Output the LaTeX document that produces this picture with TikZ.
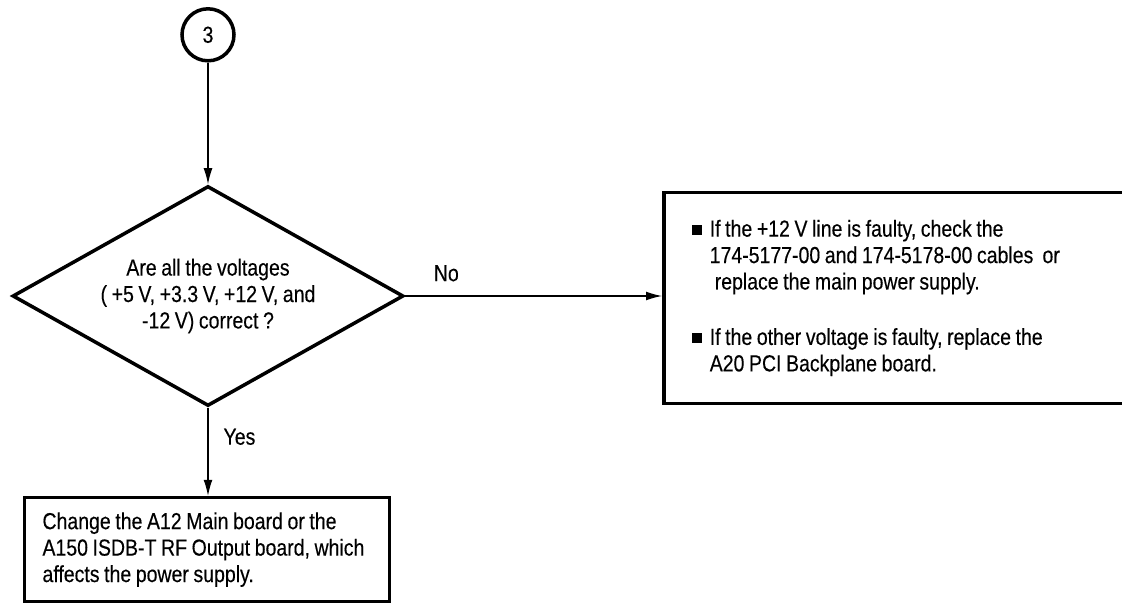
\documentclass[tikz,border=0pt]{standalone}
\usepackage{fontspec}
\setmainfont{Liberation Sans}[FakeStretch=0.84, WordSpace=0.85, FakeBold=0.3]
\usetikzlibrary{arrows.meta, shapes.geometric, positioning}

\begin{document}
\begin{tikzpicture}[
  every node/.style={font=\fontsize{16.5}{18.8}\selectfont},
  conn/.style={draw, circle, line width=2.5pt, minimum size=1.3cm, inner sep=0pt},
  test/.style={draw, diamond, line width=2.5pt, aspect=1.78, minimum width=9.775cm, minimum height=5.5cm, inner sep=0pt, align=center},
  box/.style={draw, rectangle, line width=2.5pt, align=flush left, inner ysep=0pt},
  flow/.style={line width=0.8pt, -{Latex[length=4mm,width=2.2mm]}},
  lbl/.style={inner sep=0pt}
]
\clip (0,0) rectangle (28.05,-15.1);

\node[conn] (start) at (5.2,-0.87) {3};
\node[test] (check) at (5.2,-7.4) {Are all the voltages\\( +5 V, +3.3 V, +12 V, and\\-12 V) correct ?};
\node[box, anchor=west, minimum width=12cm, minimum height=5.275cm, inner xsep=0.7cm, text width=10.6cm] (fixsupply) at (16.55,-7.45) {%
\rule[0.05cm]{0.25cm}{0.25cm}\hspace{0.2cm}If the +12 V line is faulty, check the\\
\hspace*{0.45cm}174-5177-00 and 174-5178-00 cables\ \ or\\
\hspace*{0.575cm}replace the main power supply.\\[0.725cm]
\rule[0.05cm]{0.25cm}{0.25cm}\hspace{0.2cm}If the other voltage is faulty, replace the\\
\hspace*{0.45cm}A20 PCI Backplane board.};
\node[box, minimum width=9.125cm, minimum height=2.6cm, inner xsep=0.45cm, text width=8.225cm] (change) at (5.175,-13.74) {Change the A12 Main board or the\\
A150 ISDB-T RF Output board, which\\
affects the power supply.};

% connectors
\draw[flow] (start.south) -- (check.north);
\draw[flow] (check.east) -- node[lbl, pos=0.16, above=0.35cm] {No} (check.east -| fixsupply.west);
\draw[flow] (check.south) -- node[lbl, pos=0.33, right=0.375cm] {Yes} (check.south |- change.north);

\end{tikzpicture}
\end{document}
